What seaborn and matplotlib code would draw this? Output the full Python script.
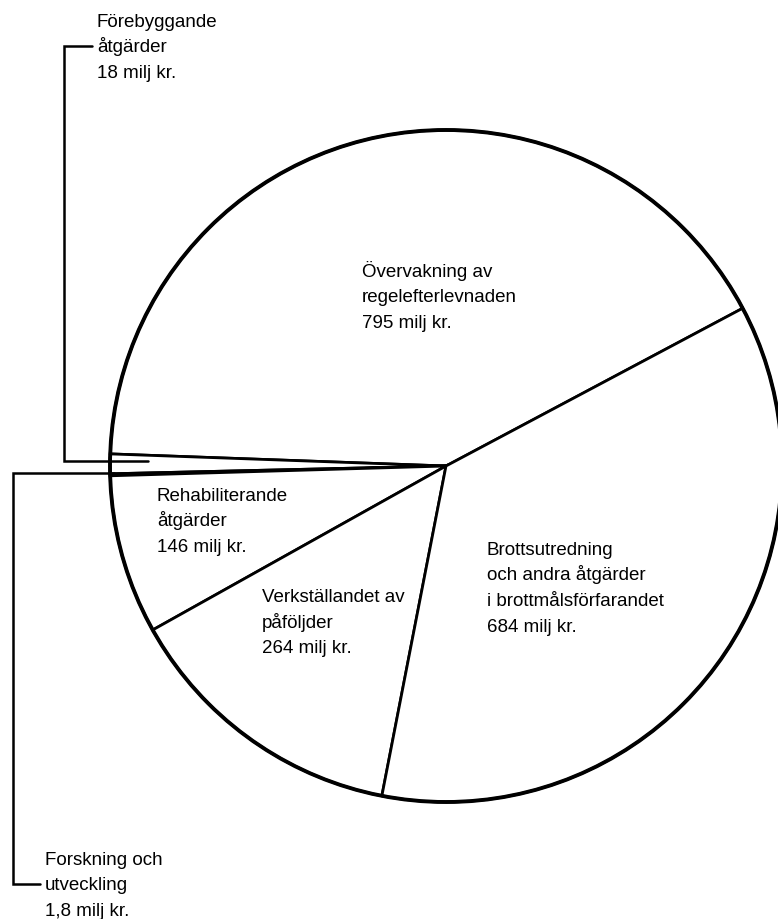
import matplotlib
matplotlib.use("Agg")
import matplotlib.pyplot as plt
import seaborn as sns

# Budget per area (milj kr.)
labels = ["Övervakning av\nregelefterlevnaden\n795 milj kr.",
          "Förebyggande\nåtgärder\n18 milj kr.",
          "Forskning och\nutveckling\n1,8 milj kr.",
          "Rehabiliterande\nåtgärder\n146 milj kr.",
          "Verkställandet av\npåföljder\n264 milj kr.",
          "Brottsutredning\noch andra åtgärder\ni brottmålsförfarandet\n684 milj kr."]
values = [795, 18, 1.8, 146, 264, 684]

sns.set_theme(style="white")
plt.rcParams['font.family'] = ['Liberation Sans', 'DejaVu Sans']

W, H = 778, 919
fig = plt.figure(figsize=(W / 100, H / 100), dpi=100)
ax = fig.add_axes([0, 0, 1, 1])

cx, cy, r = 446, H - 466, 336
ax.pie(values, startangle=28, counterclock=True, center=(cx, cy), radius=r,
       colors=["white"] * len(values),
       wedgeprops=dict(edgecolor="black", linewidth=2.0))
# thicker outer ring
circ = plt.Circle((cx, cy), r, fill=False, edgecolor="black", linewidth=2.8)
ax.add_patch(circ)

ax.set_xlim(0, W)
ax.set_ylim(0, H)
ax.set_aspect("equal")
ax.axis("off")

# text blocks: left x and baseline of first line (pixel coords), even line pitch
text_pos = {0: (362, 277), 3: (157, 501), 4: (262, 602), 5: (487, 555),
            1: (97, 27), 2: (45, 865)}
pitch = 25.5
for i, (x, y) in text_pos.items():
    for k, line in enumerate(labels[i].split("\n")):
        ax.text(x, H - (y + k * pitch), line, ha="left", va="baseline",
                fontsize=13.5, color="black")

# callout brackets for the two small slices
lw = 1.8
ax.plot([92, 64, 64, 148], [H - 46, H - 46, H - 461, H - 461],
        color="black", lw=lw, solid_joinstyle="miter")
ax.plot([40, 13, 13, 114], [H - 884, H - 884, H - 473, H - 473],
        color="black", lw=lw, solid_joinstyle="miter")

fig.savefig("out.png", dpi=100, facecolor="white")
